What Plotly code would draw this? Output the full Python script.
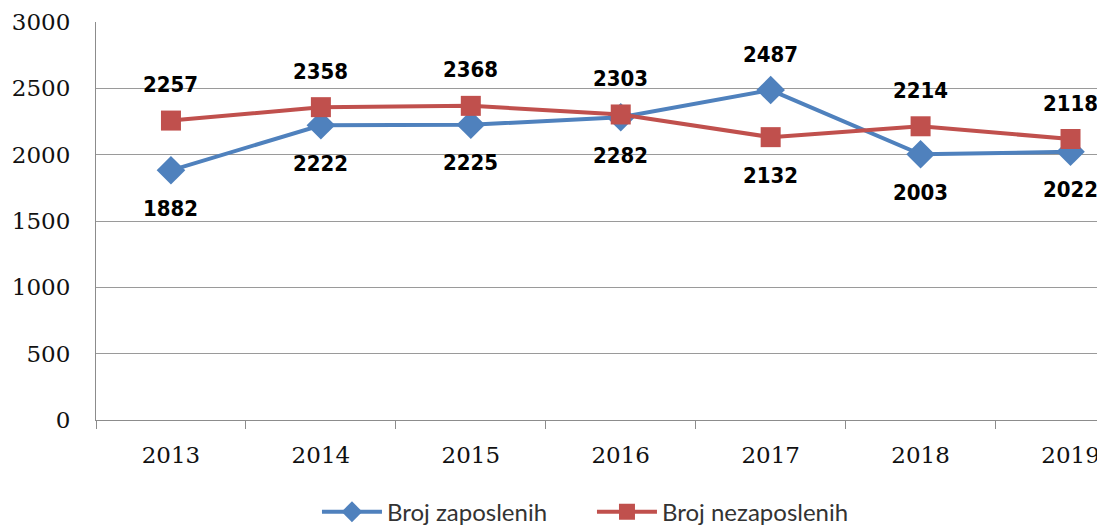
# =========================================
# Broj zaposlenih / nezaposlenih 2013-2019
# =========================================

import plotly.graph_objects as go


# Data

years = ["2013", "2014", "2015", "2016", "2017", "2018", "2019"]

zaposleni = [1882, 2222, 2225, 2282, 2487, 2003, 2022]

nezaposleni = [2257, 2358, 2368, 2303, 2132, 2214, 2118]

y_ticks = [0, 500, 1000, 1500, 2000, 2500, 3000]


BLUE = "#4F81BD"
RED = "#C0504D"

LABEL_FONT = dict(
    family="DejaVu Sans Condensed, Liberation Sans Narrow, Liberation Sans",
    size=22,
    color="#000000"
)

TICK_FONT = dict(
    family="DejaVu Serif, Liberation Serif",
    size=23,
    color="#111111"
)


fig = go.Figure()


# =========================================
# Lines
# =========================================

fig.add_trace(

    go.Scatter(

        x=years,
        y=zaposleni,

        mode="lines+markers",

        line=dict(color=BLUE, width=4),

        marker=dict(symbol="diamond", size=22, color=BLUE),

        name="Broj zaposlenih"

    )

)

fig.add_trace(

    go.Scatter(

        x=years,
        y=nezaposleni,

        mode="lines+markers",

        line=dict(color=RED, width=4),

        marker=dict(symbol="square", size=20, color=RED),

        name="Broj nezaposlenih"

    )

)


# =========================================
# Data labels (higher value above, lower below)
# =========================================

for i, (z, n) in enumerate(zip(zaposleni, nezaposleni)):

    for val, other in ((z, n), (n, z)):

        above = val >= other

        fig.add_annotation(

            x=i,
            y=val,

            text=f"<b>{val}</b>",

            showarrow=False,

            yshift=36 if above else -38,

            font=LABEL_FONT

        )


# =========================================
# Layout
# =========================================

fig.update_layout(

    width=1097,
    height=518,

    margin=dict(l=88, r=0, t=14, b=106, autoexpand=False),

    plot_bgcolor="white",
    paper_bgcolor="white",

    showlegend=True,

    legend=dict(
        orientation="h",
        x=0.219,
        xanchor="left",
        y=-0.175,
        yanchor="top",
        font=dict(family="Lato, Open Sans", size=24, color="#333333"),
        itemwidth=60,
        entrywidth=200,
        entrywidthmode="pixels",
        tracegroupgap=0
    ),

    xaxis=dict(
        type="category",
        range=[-0.5, 6.23],
        showgrid=False,
        showline=True,
        linecolor="#8c8c8c",
        linewidth=1,
        ticks="outside",
        tickson="boundaries",
        ticklen=8,
        tickcolor="#8c8c8c",
        ticklabelstandoff=14,
        tickfont=TICK_FONT
    ),

    yaxis=dict(
        range=[0, 3000],
        tickvals=y_ticks,
        showgrid=True,
        gridcolor="#9a9a9a",
        gridwidth=1,
        showline=True,
        linecolor="#8c8c8c",
        linewidth=1,
        zeroline=False,
        ticks="",
        ticklabelstandoff=20,
        tickfont=TICK_FONT
    )

)


fig.write_html("out.html")
